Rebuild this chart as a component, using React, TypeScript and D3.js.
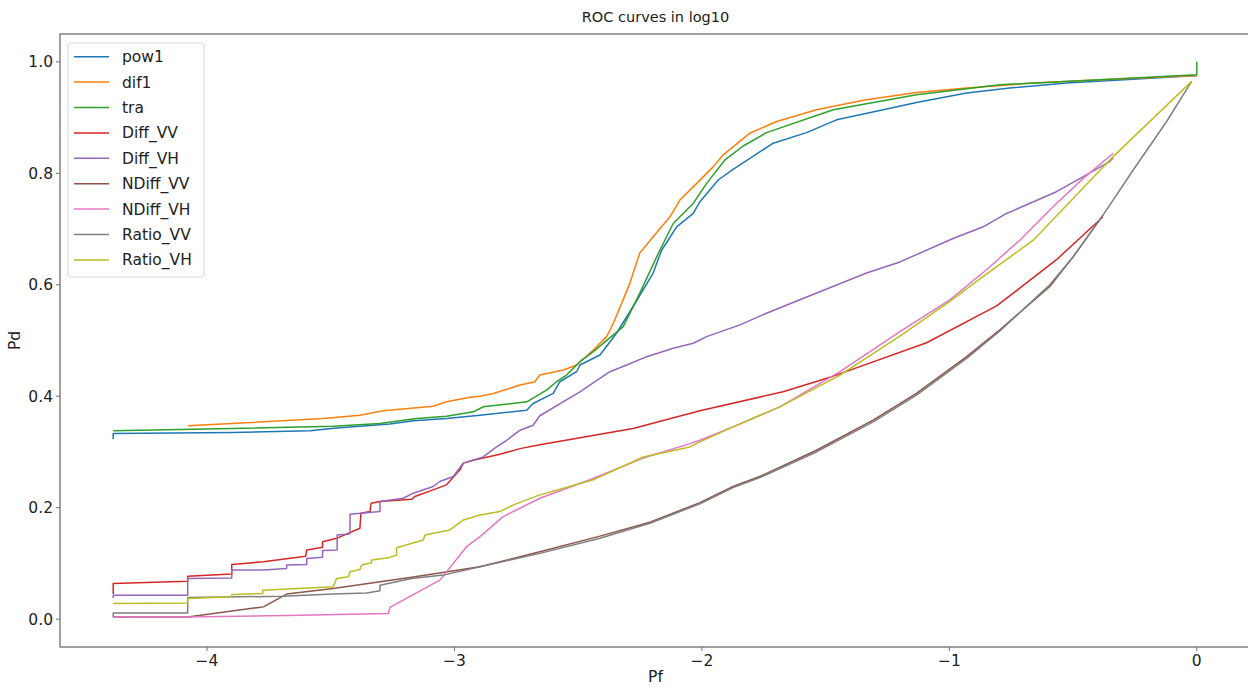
import React from "react";
import * as d3 from "d3";

type P = [number, number];

const seriesNames = ["pow1", "dif1", "tra", "Diff_VV", "Diff_VH", "NDiff_VV", "NDiff_VH", "Ratio_VV", "Ratio_VH"];
const seriesColors = ["#1f77b4", "#ff7f0e", "#2ca02c", "#d62728", "#9467bd", "#8c564b", "#e377c2", "#7f7f7f", "#bcbd22"];

const xTicks = [-4, -3, -2, -1, 0];
const yTicks = [0.0, 0.2, 0.4, 0.6, 0.8, 1.0];

const pow1: P[] = [
  [-4.379, 0.323], [-4.379, 0.333], [-3.894, 0.335], [-3.584, 0.338], [-3.476, 0.343], [-3.261, 0.35],
  [-3.166, 0.356], [-3.032, 0.36], [-2.897, 0.366], [-2.708, 0.375], [-2.682, 0.387], [-2.601, 0.405],
  [-2.574, 0.426], [-2.506, 0.444], [-2.493, 0.456], [-2.412, 0.474], [-2.345, 0.513], [-2.278, 0.561],
  [-2.197, 0.621], [-2.163, 0.662], [-2.102, 0.704], [-2.035, 0.728], [-2.008, 0.749], [-1.934, 0.788],
  [-1.874, 0.807], [-1.712, 0.854], [-1.577, 0.873], [-1.456, 0.896], [-1.267, 0.914], [-1.133, 0.927],
  [-0.93, 0.944], [-0.756, 0.953], [-0.526, 0.962], [-0.257, 0.969], [-0.015, 0.975], [0, 0.975],
];

const dif1: P[] = [
  [-4.078, 0.347], [-3.9, 0.351], [-3.53, 0.36], [-3.382, 0.366], [-3.288, 0.374], [-3.086, 0.382],
  [-3.032, 0.39], [-2.937, 0.398], [-2.897, 0.4], [-2.843, 0.405], [-2.735, 0.42], [-2.675, 0.426],
  [-2.655, 0.438], [-2.56, 0.447], [-2.506, 0.456], [-2.439, 0.483], [-2.385, 0.507], [-2.358, 0.531],
  [-2.324, 0.567], [-2.291, 0.603], [-2.251, 0.657], [-2.197, 0.686], [-2.129, 0.722], [-2.089, 0.752],
  [-2.021, 0.782], [-1.954, 0.812], [-1.914, 0.833], [-1.806, 0.872], [-1.698, 0.893], [-1.537, 0.914],
  [-1.348, 0.931], [-1.133, 0.945], [-0.93, 0.953], [-0.661, 0.962], [-0.392, 0.968], [-0.015, 0.975], [0, 0.975],
];

const tra: P[] = [
  [-4.379, 0.338], [-3.9, 0.342], [-3.49, 0.346], [-3.301, 0.351], [-3.153, 0.36], [-3.032, 0.364],
  [-2.924, 0.372], [-2.897, 0.378], [-2.884, 0.381], [-2.708, 0.39], [-2.628, 0.411], [-2.587, 0.426],
  [-2.547, 0.438], [-2.493, 0.462], [-2.439, 0.48], [-2.318, 0.525], [-2.251, 0.585], [-2.17, 0.662],
  [-2.116, 0.71], [-2.035, 0.746], [-1.981, 0.782], [-1.907, 0.824], [-1.833, 0.849], [-1.739, 0.873],
  [-1.469, 0.914], [-1.133, 0.941], [-0.796, 0.959], [-0.392, 0.968], [0, 0.977], [0, 1.0],
];

const diffVV: P[] = [
  [-4.379, 0.045], [-4.379, 0.064], [-4.078, 0.068], [-4.078, 0.077], [-3.9, 0.081], [-3.9, 0.098],
  [-3.772, 0.103], [-3.601, 0.113], [-3.597, 0.124], [-3.533, 0.129], [-3.533, 0.139], [-3.476, 0.145],
  [-3.382, 0.163], [-3.378, 0.19], [-3.341, 0.193], [-3.337, 0.208], [-3.301, 0.211], [-3.173, 0.215],
  [-3.16, 0.22], [-3.086, 0.232], [-3.032, 0.241], [-2.978, 0.268], [-2.964, 0.28], [-2.925, 0.285],
  [-2.816, 0.296], [-2.735, 0.306], [-2.655, 0.313], [-2.278, 0.342], [-2.008, 0.374], [-1.672, 0.408],
  [-1.469, 0.436], [-1.092, 0.496], [-0.809, 0.562], [-0.567, 0.645], [-0.379, 0.722],
];

const diffVH: P[] = [
  [-4.379, 0.038], [-4.379, 0.043], [-4.078, 0.043], [-4.078, 0.073], [-3.9, 0.074], [-3.9, 0.088],
  [-3.772, 0.088], [-3.678, 0.091], [-3.678, 0.097], [-3.597, 0.098], [-3.597, 0.109], [-3.533, 0.111],
  [-3.533, 0.123], [-3.474, 0.124], [-3.474, 0.151], [-3.422, 0.153], [-3.422, 0.188], [-3.301, 0.193],
  [-3.301, 0.211], [-3.207, 0.217], [-3.166, 0.226], [-3.086, 0.238], [-3.059, 0.247], [-3.005, 0.256],
  [-2.964, 0.28], [-2.884, 0.291], [-2.83, 0.309], [-2.789, 0.321], [-2.735, 0.339], [-2.682, 0.348],
  [-2.655, 0.365], [-2.493, 0.408], [-2.372, 0.444], [-2.304, 0.456], [-2.223, 0.471], [-2.116, 0.486],
  [-2.035, 0.495], [-1.981, 0.507], [-1.846, 0.528], [-1.739, 0.549], [-1.604, 0.573], [-1.335, 0.621],
  [-1.2, 0.641], [-0.985, 0.683], [-0.863, 0.704], [-0.769, 0.728], [-0.567, 0.767], [-0.459, 0.794],
  [-0.352, 0.821], [-0.338, 0.828],
];

const ndiffVV: P[] = [
  [-4.379, 0.004], [-4.078, 0.004], [-3.772, 0.022], [-3.678, 0.045], [-3.49, 0.055], [-3.173, 0.075],
  [-2.897, 0.094], [-2.655, 0.121], [-2.412, 0.149], [-2.21, 0.174], [-2.008, 0.209], [-1.874, 0.238],
  [-1.766, 0.256], [-1.537, 0.303], [-1.308, 0.357], [-1.133, 0.405], [-0.93, 0.471], [-0.796, 0.519],
  [-0.594, 0.597], [-0.5, 0.65], [-0.379, 0.725],
];

const ndiffVH: P[] = [
  [-4.379, 0.004], [-4.078, 0.004], [-3.624, 0.007], [-3.267, 0.01], [-3.261, 0.021], [-3.059, 0.07],
  [-2.951, 0.13], [-2.897, 0.148], [-2.803, 0.184], [-2.655, 0.217], [-2.453, 0.25], [-2.237, 0.289],
  [-2.048, 0.315], [-2.008, 0.321], [-1.874, 0.345], [-1.685, 0.381], [-1.442, 0.444], [-1.2, 0.516],
  [-0.998, 0.573], [-0.85, 0.627], [-0.715, 0.68], [-0.581, 0.74], [-0.459, 0.791], [-0.338, 0.836],
];

const ratioVV: P[] = [
  [-4.379, 0.004], [-4.379, 0.011], [-4.078, 0.011], [-4.078, 0.039], [-3.692, 0.041], [-3.49, 0.045],
  [-3.355, 0.047], [-3.301, 0.051], [-3.301, 0.061], [-3.173, 0.073], [-3.045, 0.079], [-2.897, 0.094],
  [-2.655, 0.118], [-2.412, 0.145], [-2.21, 0.172], [-2.008, 0.207], [-1.874, 0.236], [-1.766, 0.254],
  [-1.537, 0.3], [-1.308, 0.354], [-1.133, 0.402], [-0.93, 0.468], [-0.796, 0.517], [-0.594, 0.6],
  [-0.5, 0.65], [-0.379, 0.725], [-0.257, 0.806], [-0.122, 0.893], [-0.021, 0.965],
];

const ratioVH: P[] = [
  [-4.379, 0.028], [-4.078, 0.029], [-4.078, 0.037], [-3.9, 0.04], [-3.9, 0.044], [-3.775, 0.046],
  [-3.775, 0.052], [-3.49, 0.058], [-3.476, 0.073], [-3.429, 0.076], [-3.422, 0.085], [-3.382, 0.089],
  [-3.375, 0.097], [-3.335, 0.101], [-3.335, 0.106], [-3.267, 0.11], [-3.234, 0.115], [-3.234, 0.128],
  [-3.126, 0.142], [-3.119, 0.151], [-3.018, 0.16], [-2.964, 0.178], [-2.897, 0.187], [-2.816, 0.193],
  [-2.762, 0.205], [-2.655, 0.223], [-2.439, 0.25], [-2.237, 0.291], [-2.048, 0.309], [-2.008, 0.318],
  [-1.874, 0.345], [-1.685, 0.381], [-1.442, 0.438], [-1.2, 0.508], [-0.998, 0.57], [-0.863, 0.615],
  [-0.661, 0.68], [-0.338, 0.83], [-0.021, 0.965],
];

const seriesData: P[][] = [pow1, dif1, tra, diffVV, diffVH, ndiffVV, ndiffVH, ratioVV, ratioVH];

const W = 1248;
const H = 687;
const M = { left: 60, right: 1251, top: 34, bottom: 647 };
const FONT = "'DejaVu Sans', sans-serif";

export default function App() {
  const x = d3.scaleLinear().domain([-4.594, 0.219]).range([M.left, M.right]);
  const y = d3.scaleLinear().domain([-0.05, 1.05]).range([M.bottom, M.top]);
  const line = d3
    .line<P>()
    .x((d) => x(d[0]))
    .y((d) => y(d[1]));
  const fmtX = (v: number) => (v < 0 ? "\u2212" + Math.abs(v) : String(v));
  const legendX = 68;
  const legendY = 43;
  const rowH = 25.4;

  return (
    <svg
      width={W}
      height={H}
      style={{ position: "absolute", left: 0, top: 0, background: "#fff" }}
      fontFamily={FONT}
    >
      <rect x={0} y={0} width={W} height={H} fill="#fff" />
      <defs>
        <clipPath id="plotclip">
          <rect x={M.left} y={M.top} width={M.right - M.left} height={M.bottom - M.top} />
        </clipPath>
      </defs>
      <g clipPath="url(#plotclip)">
        {seriesData.map((d, i) => (
          <path
            key={seriesNames[i]}
            d={line(d) || ""}
            fill="none"
            stroke={seriesColors[i]}
            strokeWidth={1.5}
            strokeLinejoin="round"
          />
        ))}
      </g>
      <rect
        x={M.left}
        y={M.top}
        width={M.right - M.left}
        height={M.bottom - M.top}
        fill="none"
        stroke="#6e6e6e"
        strokeWidth={1.3}
      />
      {xTicks.map((t) => (
        <g key={"x" + t}>
          <line x1={x(t)} x2={x(t)} y1={M.bottom} y2={M.bottom + 4} stroke="#6e6e6e" strokeWidth={1} />
          <text x={x(t)} y={M.bottom + 19} textAnchor="middle" fontSize={15.5} fill="#222">
            {fmtX(t)}
          </text>
        </g>
      ))}
      {yTicks.map((t) => (
        <g key={"y" + t}>
          <line x1={M.left - 4} x2={M.left} y1={y(t)} y2={y(t)} stroke="#6e6e6e" strokeWidth={1} />
          <text x={M.left - 7} y={y(t)} dy="0.35em" textAnchor="end" fontSize={15.5} fill="#222">
            {t.toFixed(1)}
          </text>
        </g>
      ))}
      <text x={(M.left + M.right) / 2} y={22} textAnchor="middle" fontSize={14.5} fill="#222">
        ROC curves in log10
      </text>
      <text x={(M.left + M.right) / 2} y={682} textAnchor="middle" fontSize={15.5} fill="#222">
        Pf
      </text>
      <text
        transform={`translate(20, ${(M.top + M.bottom) / 2}) rotate(-90)`}
        textAnchor="middle"
        fontSize={15.5}
        fill="#222"
      >
        Pd
      </text>
      <rect
        x={legendX}
        y={legendY}
        width={136}
        height={234}
        rx={3}
        fill="#fff"
        fillOpacity={0.8}
        stroke="#d6d6d6"
        strokeWidth={1}
      />
      {seriesNames.map((n, i) => {
        const cy = legendY + 13.7 + i * rowH;
        return (
          <g key={"lg" + n}>
            <line x1={74} x2={109} y1={cy} y2={cy} stroke={seriesColors[i]} strokeWidth={1.5} />
            <text x={122} y={cy} dy="0.35em" fontSize={15.5} fill="#222">
              {n}
            </text>
          </g>
        );
      })}
    </svg>
  );
}
